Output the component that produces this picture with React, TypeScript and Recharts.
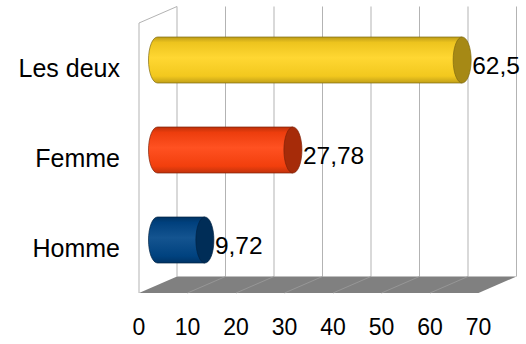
import { BarChart, Bar, XAxis, YAxis, ReferenceArea, LabelList } from 'recharts';

const categories = ['Les deux', 'Femme', 'Homme'];
const values = [62.5, 27.78, 9.72];
const barColors = ['#ffd320', '#ff420e', '#004586'];
const xTicks = [0, 10, 20, 30, 40, 50, 60, 70];

const data = categories.map((name, i) => ({ name, value: values[i], color: barColors[i] }));

const FONT = '"Liberation Sans", Arial, sans-serif';
// depth offsets of the 3D box (back plane / middle plane where bars sit)
const BACK_DX = 38;
const BACK_DY = -16.5;
const MID_DX = 18.5;
const MID_DY = -8;
const CAP_RX = 9;

const shade = (hex: string, k: number) => {
  const n = parseInt(hex.slice(1), 16);
  const c = [(n >> 16) & 255, (n >> 8) & 255, n & 255].map((v) =>
    Math.max(0, Math.min(255, Math.round(k >= 1 ? v + (255 - v) * (k - 1) : v * k)))
  );
  return '#' + c.map((v) => v.toString(16).padStart(2, '0')).join('');
};

const Box3D = (props: any) => {
  const { x, y, width, height } = props;
  const bottom = y + height;
  const max = xTicks[xTicks.length - 1];
  const px = (t: number) => x + (width * t) / max;
  return (
    <g>
      {/* left wall */}
      <polyline
        points={`${x},${bottom} ${x},${y} ${x + BACK_DX},${y + BACK_DY}`}
        fill="none"
        stroke="#b3b3b3"
        strokeWidth={1}
      />
      {/* back wall grid */}
      {xTicks.map((t) => (
        <line
          key={`g${t}`}
          x1={px(t) + BACK_DX}
          x2={px(t) + BACK_DX}
          y1={y + BACK_DY}
          y2={bottom + BACK_DY}
          stroke="#b3b3b3"
          strokeWidth={1}
        />
      ))}
      {/* floor */}
      <polygon
        points={`${x},${bottom} ${x + width},${bottom} ${x + width + BACK_DX},${bottom + BACK_DY} ${x + BACK_DX},${bottom + BACK_DY}`}
        fill="#808080"
      />
      {xTicks.slice(1, -1).map((t) => (
        <line
          key={`f${t}`}
          x1={px(t)}
          y1={bottom}
          x2={px(t) + BACK_DX}
          y2={bottom + BACK_DY}
          stroke="#9c9c9c"
          strokeWidth={0.8}
        />
      ))}
    </g>
  );
};

const Cylinder = (props: any) => {
  const { x, y, width, height, index, payload } = props;
  const color = payload.color;
  const cy = y + height / 2 + MID_DY;
  const ry = height / 2;
  const x0 = x + MID_DX;
  const x1 = x + width * 1.005 + MID_DX;
  const top = cy - ry;
  const bot = cy + ry;
  const gid = `cyl${index}`;
  return (
    <g>
      <defs>
        <linearGradient id={gid} x1="0" y1="0" x2="0" y2="1">
          <stop offset="0%" stopColor={shade(color, 0.74)} />
          <stop offset="12%" stopColor={shade(color, 0.93)} />
          <stop offset="45%" stopColor={shade(color, 1.08)} />
          <stop offset="85%" stopColor={shade(color, 0.95)} />
          <stop offset="100%" stopColor={shade(color, 0.76)} />
        </linearGradient>
      </defs>
      <path
        d={`M${x0},${top} L${x1},${top} L${x1},${bot} L${x0},${bot} A${CAP_RX},${ry} 0 0 1 ${x0},${top} Z`}
        fill={`url(#${gid})`}
        stroke={shade(color, 0.5)}
        strokeWidth={0.7}
      />
      <ellipse cx={x1} cy={cy} rx={CAP_RX} ry={ry} fill={shade(color, 0.65)} stroke={shade(color, 0.5)} strokeWidth={0.7} />
    </g>
  );
};

const ValueLabel = (props: any) => {
  const { x, y, width, height, value } = props;
  const cy = y + height / 2 + MID_DY;
  const x1 = x + width * 1.005 + MID_DX;
  return (
    <text x={x1 + CAP_RX + 1} y={cy + 13.5} fontSize={24.5} fontFamily={FONT} fill="#000">
      {String(value).replace('.', ',')}
    </text>
  );
};

export default function App() {
  return (
    <div style={{ position: 'absolute', left: 0, top: 0, background: '#fff' }}>
      <BarChart
        width={526}
        height={344}
        data={data}
        layout="vertical"
        margin={{ top: 23, right: 47.5, left: 10, bottom: 21 }}
        barSize={46}
      >
        <XAxis
          type="number"
          domain={[0, 70]}
          ticks={xTicks}
          interval={0}
          axisLine={false}
          tickLine={false}
          tickMargin={20}
          tick={{ fontSize: 23, fontFamily: FONT, fill: '#000' }}
        />
        <YAxis
          type="category"
          dataKey="name"
          width={129}
          axisLine={false}
          tickLine={false}
          tickMargin={13}
          tick={{ fontSize: 25, fontFamily: FONT, fill: '#000' }}
        />
        <ReferenceArea x1={0} x2={70} shape={<Box3D />} ifOverflow="visible" />
        <Bar dataKey="value" shape={<Cylinder />} isAnimationActive={false}>
          <LabelList dataKey="value" content={<ValueLabel />} />
        </Bar>
      </BarChart>
    </div>
  );
}
